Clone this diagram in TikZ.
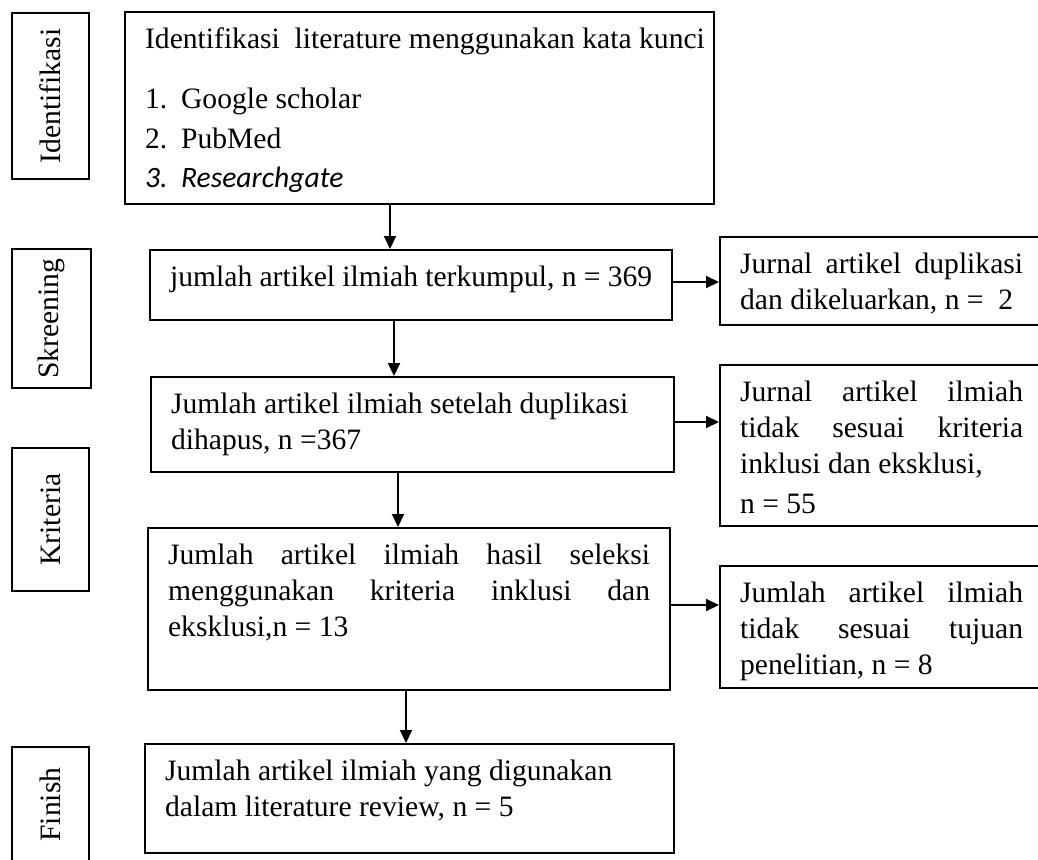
\documentclass[tikz,border=0pt]{standalone}
\usepackage{fontspec}
\setmainfont{Liberation Serif}
\newfontfamily\calib{Carlito}
\usetikzlibrary{arrows.meta}
% text block of a box, set at its top
\newcommand{\inbox}[3]{\parbox[c][#2][t]{#1}{\raggedright #3}}
% side boxes run out of the page on the right
\newcommand{\sidebox}[2]{\makebox[340pt][l]{\inbox{283pt}{#1}{#2}}}
% justified line
\newcommand{\jline}[1]{\makebox[\linewidth][s]{#1}}

\begin{document}
\begin{tikzpicture}[x=1pt,y=-1pt]
    \tikzset{%
      box/.style={draw, line width=2.2pt, anchor=north west, inner xsep=20pt,
        inner ysep=16pt, font=\fontsize{29.6}{36}\selectfont},
      lab/.style={draw, line width=2.2pt, rotate=90, inner sep=0pt,
        font=\fontsize{29.6}{36}\selectfont},
      arr/.style={line width=2pt, -{Triangle[length=13pt,width=12pt]}},
    }
    \useasboundingbox (0,0) rectangle (1038,859);

    \node[lab, minimum width=166pt, minimum height=77pt] (Id) at (50.5,96) {Identifikasi};
    \node[lab, minimum width=139pt, minimum height=79pt] (Sk) at (51.5,318.5) {Skreening};
    \node[lab, minimum width=143pt, minimum height=77pt] (Kr) at (50.5,519.5) {Kriteria};
    \node[lab, minimum width=115pt, minimum height=77pt] (Fi) at (50.5,804.5) {Finish};

    \node[box] (S1) at (124,11) {\inbox{549pt}{160pt}{%
      \mbox{Identifikasi\ \ literature menggunakan kata kunci}\\[24pt]
      \makebox[36pt][l]{1.}Google scholar\\[3.5pt]
      \makebox[36pt][l]{2.}PubMed\\[3.5pt]
      {\calib\itshape\makebox[36pt][l]{3.}Researchgate}}};
    \node[box] (S2) at (149,249) {\inbox{482pt}{38pt}{%
      jumlah artikel ilmiah terkumpul, n = 369}};
    \node[box] (S3) at (150,376) {\inbox{483pt}{63pt}{%
      Jumlah artikel ilmiah setelah duplikasi\\
      dihapus, n =367}};
    \node[box] (S4) at (147,527) {\inbox{482pt}{130pt}{%
      \jline{Jumlah artikel ilmiah hasil seleksi}\\
      \jline{menggunakan kriteria inklusi dan}\\
      eksklusi,n = 13}};
    \node[box] (S5) at (144,743) {\inbox{489pt}{77pt}{%
      Jumlah artikel ilmiah yang digunakan\\
      dalam literature review, n = 5}};

    \node[box] (X1) at (719,236) {\sidebox{56pt}{%
      \jline{Jurnal artikel duplikasi}\\
      dan dikeluarkan, n =\ \ 2}};
    \node[box] (X2) at (719,364) {\sidebox{129pt}{%
      \jline{Jurnal artikel ilmiah}\\
      \jline{tidak sesuai kriteria}\\
      inklusi dan eksklusi,\\[4pt]
      n = 55}};
    \node[box] (X3) at (719,565) {\sidebox{90pt}{%
      \jline{Jumlah artikel ilmiah}\\
      \jline{tidak sesuai tujuan}\\
      penelitian, n = 8}};

    \draw[arr] (390,0 |- S1.south) -- (390,0 |- S2.north);
    \draw[arr] (394,0 |- S2.south) -- (394,0 |- S3.north);
    \draw[arr] (398,0 |- S3.south) -- (398,0 |- S4.north);
    \draw[arr] (406,0 |- S4.south) -- (406,0 |- S5.north);

    \draw[arr] (S2.east |- 0,282) -- (X1.west |- 0,282);
    \draw[arr] (S3.east |- 0,422) -- (X2.west |- 0,422);
    \draw[arr] (S4.east |- 0,605) -- (X3.west |- 0,605);
\end{tikzpicture}
\end{document}
